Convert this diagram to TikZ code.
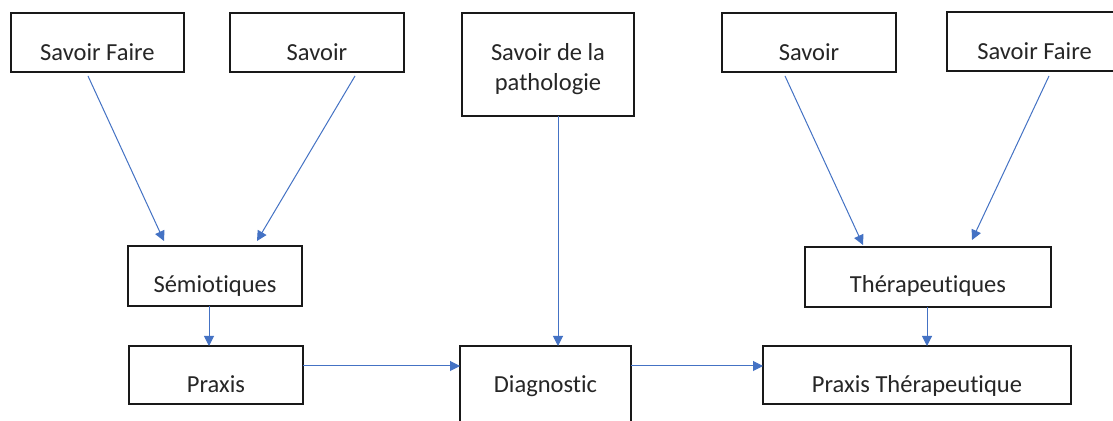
\documentclass[tikz,border=0pt]{standalone}
\usepackage{fontspec}
\setmainfont{Carlito}[Ligatures=NoCommon,RawFeature=-liga,RawFeature=-calt,RawFeature=-clig]
\usetikzlibrary{arrows.meta,calc}
\definecolor{arrblue}{HTML}{4472C4}
\definecolor{txtgray}{HTML}{262626}
\begin{document}
\begin{tikzpicture}[x=0.5pt,y=-0.5pt,
  boxnode/.style={draw=black!90,line width=1.3pt,rectangle,inner sep=0pt,outer sep=0pt,fill=white},
  lbl/.style={font=\fontsize{12.25}{15}\selectfont,text=txtgray,anchor=base,inner sep=0pt},
  arr/.style={draw=arrblue,line width=0.5pt,-{Triangle[length=5pt,width=5pt]}}]
\clip (0,0) rectangle (1113,421);
\fill[white] (0,0) rectangle (1113,421);
% boxes
\node[boxnode,minimum width=86.5pt,minimum height=29.5pt] (sf1) at (97.4,42.5) {};
\node[boxnode,minimum width=87pt,minimum height=29.5pt] (sv1) at (317,42.5) {};
\node[boxnode,minimum width=86pt,minimum height=51.5pt] (path) at (548,64.5) {};
\node[boxnode,minimum width=87pt,minimum height=29.5pt] (sv2) at (809,42.5) {};
\node[boxnode,minimum width=87.5pt,minimum height=29.5pt] (sf2) at (1034.5,41.5) {};
\node[boxnode,minimum width=87pt,minimum height=30pt] (sem) at (215,276) {};
\node[boxnode,minimum width=87pt,minimum height=29pt] (prax) at (216,375) {};
\node[boxnode,minimum width=85.5pt,minimum height=60pt] (diag) at (545.5,406) {};
\node[boxnode,minimum width=123pt,minimum height=30pt] (ther) at (928,277) {};
\node[boxnode,minimum width=154pt,minimum height=29pt] (pt) at (917,375) {};
% texts
\node[lbl] (sf1t) at (97.4,61) {Savoir Faire};
\node[lbl] (sv1t) at (317,61) {Savoir};
\node[lbl] (patht1) at (548,61) {Savoir de la};
\node[lbl] (patht2) at (548,91) {pathologie};
\node[lbl] (sv2t) at (809,61) {Savoir};
\node[lbl] (sf2t) at (1034.5,60) {Savoir Faire};
\node[lbl] (semt) at (215,293) {Sémiotiques};
\node[lbl] (praxt) at (216,393) {Praxis};
\node[lbl] (diagt) at (545.5,393) {Diagnostic};
\node[lbl] (thert) at (928,293) {Thérapeutiques};
\node[lbl] (ptt) at (917,393) {Praxis Thérapeutique};
% reference coordinates
\coordinate (a1s) at (88,76);   \coordinate (a1e) at (164,241);
\coordinate (a2s) at (355,76);  \coordinate (a2e) at (257,241);
\coordinate (a4s) at (785,76);  \coordinate (a4e) at (863,245);
\coordinate (a5s) at (1049,76); \coordinate (a5e) at (972,240);
\coordinate (xpath) at (558,0);
\coordinate (xsem) at (209,0);
\coordinate (xther) at (927,0);
\coordinate (yrow) at (0,366);
% connectors
\draw[arr] (a1s) -- (a1e);
\draw[arr] (a2s) -- (a2e);
\draw[arr] (a4s) -- (a4e);
\draw[arr] (a5s) -- (a5e);
\draw[arr] (path.south -| xpath) -- (diag.north -| xpath);
\draw[arr] (sem.south -| xsem) -- (prax.north -| xsem);
\draw[arr] (ther.south -| xther) -- (pt.north -| xther);
\draw[arr] (prax.east |- yrow) -- (diag.west |- yrow);
\draw[arr] (diag.east |- yrow) -- (pt.west |- yrow);
\end{tikzpicture}
\end{document}
